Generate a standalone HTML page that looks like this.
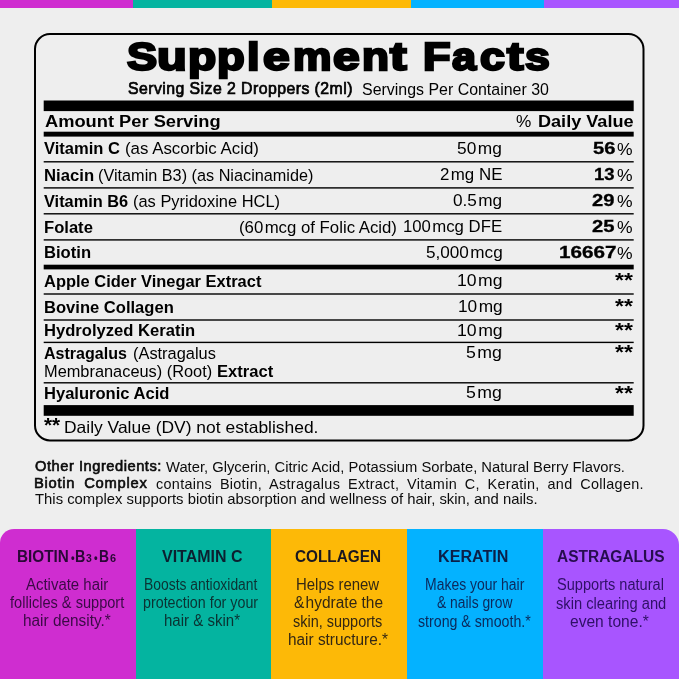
<!DOCTYPE html>
<html><head><meta charset="utf-8"><title>Supplement Facts</title>
<style>
html,body{margin:0;padding:0;}
body{width:679px;height:679px;overflow:hidden;position:relative;background:#eeeeee;font-family:"Liberation Sans",sans-serif;color:#000;}
.t{position:absolute;white-space:nowrap;transform-origin:0 0;line-height:normal;display:block;}
.band{position:absolute;top:0;height:8px;}
.h{margin:0;padding:0;font:inherit;}
.geo{position:absolute;left:0;top:0;}
.p{position:absolute;top:529.3px;height:150px;}
.txt{position:absolute;left:0;top:0;width:679px;height:679px;will-change:transform;}
</style></head><body>
<div class="band" style="left:0;width:140px;background:#cf2dd0"></div>
<div class="band" style="left:132.7px;width:145px;background:#04b4a0"></div>
<div class="band" style="left:271.7px;width:145px;background:#fdb907"></div>
<div class="band" style="left:410.7px;width:140px;background:#04b2ff"></div>
<div class="band" style="left:544px;width:135px;background:#a855ff"></div>

<svg class="geo" width="679" height="679" viewBox="0 0 679 679">
<rect x="35" y="34.1" width="608.5" height="406.3" rx="15" ry="15" fill="none" stroke="#000" stroke-width="2"/>
<rect x="43.7" y="100.5" width="590" height="10.6" fill="#000"/>
<rect x="43.7" y="131.7" width="590" height="4.9" fill="#000"/>
<rect x="43.7" y="264.7" width="590" height="4.7" fill="#000"/>
<rect x="43.7" y="405.1" width="590" height="10.7" fill="#000"/>
<rect x="43.7" y="161.1" width="590" height="1.4" fill="#000"/>
<rect x="43.7" y="187.2" width="590" height="1.4" fill="#000"/>
<rect x="43.7" y="213.1" width="590" height="1.4" fill="#000"/>
<rect x="43.7" y="239.2" width="590" height="1.4" fill="#000"/>
<rect x="43.7" y="293.3" width="590" height="1.4" fill="#000"/>
<rect x="43.7" y="319.3" width="590" height="1.4" fill="#000"/>
<rect x="43.7" y="341.7" width="590" height="1.4" fill="#000"/>
<rect x="43.7" y="382.1" width="590" height="1.4" fill="#000"/>
</svg>

<div class="p" style="left:0;width:140px;background:#cf2dd0;border-top-left-radius:14px"></div>
<div class="p" style="left:135.5px;width:140px;background:#04b4a0"></div>
<div class="p" style="left:271.3px;width:140px;background:#fdb907"></div>
<div class="p" style="left:407px;width:140px;background:#04b2ff"></div>
<div class="p" style="left:542.6px;width:136.4px;background:#a855ff;border-top-right-radius:16px"></div>

<div class="txt">
<h1 class="h"><span class="t" style="left:126.83px;top:33.84px;font-size:39.4px;font-weight:700;transform:scaleX(1.1474);-webkit-text-stroke:2.4px #000;">S</span><span class="t" style="left:157.41px;top:33.84px;font-size:39.4px;font-weight:700;transform:scaleX(1.2365);-webkit-text-stroke:2.4px #000;">u</span><span class="t" style="left:187.56px;top:33.84px;font-size:39.4px;font-weight:700;transform:scaleX(1.1709);-webkit-text-stroke:2.4px #000;">p</span><span class="t" style="left:217.28px;top:33.84px;font-size:39.4px;font-weight:700;transform:scaleX(1.1495);-webkit-text-stroke:2.4px #000;">p</span><span class="t" style="left:246.68px;top:33.84px;font-size:39.4px;font-weight:700;transform:scaleX(1.1478);-webkit-text-stroke:2.4px #000;">l</span><span class="t" style="left:262.64px;top:33.84px;font-size:39.4px;font-weight:700;transform:scaleX(1.2180);-webkit-text-stroke:2.4px #000;">e</span><span class="t" style="left:292.62px;top:33.84px;font-size:39.4px;font-weight:700;transform:scaleX(1.0986);-webkit-text-stroke:2.4px #000;">m</span><span class="t" style="left:333.14px;top:33.84px;font-size:39.4px;font-weight:700;transform:scaleX(1.2180);-webkit-text-stroke:2.4px #000;">e</span><span class="t" style="left:362.00px;top:33.84px;font-size:39.4px;font-weight:700;transform:scaleX(1.1205);-webkit-text-stroke:2.4px #000;">n</span><span class="t" style="left:389.92px;top:33.84px;font-size:39.4px;font-weight:700;transform:scaleX(1.2656);-webkit-text-stroke:2.4px #000;">t</span> <span class="t" style="left:423.38px;top:33.84px;font-size:39.4px;font-weight:700;transform:scaleX(1.1452);-webkit-text-stroke:2.4px #000;">F</span><span class="t" style="left:451.72px;top:33.84px;font-size:39.4px;font-weight:700;transform:scaleX(1.0977);-webkit-text-stroke:2.4px #000;">a</span><span class="t" style="left:479.73px;top:33.84px;font-size:39.4px;font-weight:700;transform:scaleX(1.1332);-webkit-text-stroke:2.4px #000;">c</span><span class="t" style="left:507.30px;top:33.84px;font-size:39.4px;font-weight:700;transform:scaleX(1.2526);-webkit-text-stroke:2.4px #000;">t</span><span class="t" style="left:525.03px;top:33.84px;font-size:39.4px;font-weight:700;transform:scaleX(1.1287);-webkit-text-stroke:2.4px #000;">s</span></h1>
<span class="t" style="left:128.44px;top:79.20px;font-size:16.3px;font-weight:400;letter-spacing:0.45px;transform:scaleX(0.9729);-webkit-text-stroke:0.7px #000;">Serving Size 2 Droppers (2ml)</span>
<span class="t" style="left:362.00px;top:79.55px;font-size:16.3px;font-weight:400;transform:scaleX(0.9785);">Servings Per Container 30</span>
<span class="t" style="left:44.70px;top:112.72px;font-size:16px;font-weight:700;transform:scaleX(1.1422);">Amount Per Serving</span>
<span class="t" style="left:516.40px;top:112.02px;font-size:17px;font-weight:400;transform:scaleX(1.0127);">%</span>
<span class="t" style="left:537.57px;top:112.72px;font-size:16px;font-weight:700;transform:scaleX(1.1304);">Daily Value</span>
<span class="t" style="left:44.00px;top:139.45px;font-size:16.3px;font-weight:700;transform:scaleX(1.0155);">Vitamin C</span>
<span class="t" style="left:125.37px;top:139.45px;font-size:16.3px;font-weight:400;transform:scaleX(1.0346);">(as Ascorbic Acid)</span>
<span class="t" style="left:43.68px;top:165.65px;font-size:16.3px;font-weight:700;transform:scaleX(1.0249);">Niacin</span>
<span class="t" style="left:98.20px;top:165.65px;font-size:16.3px;font-weight:400;transform:scaleX(0.9975);">(Vitamin B3) (as Niacinamide)</span>
<span class="t" style="left:44.00px;top:191.55px;font-size:16.3px;font-weight:700;transform:scaleX(1.0035);">Vitamin B6</span>
<span class="t" style="left:132.79px;top:191.55px;font-size:16.3px;font-weight:400;transform:scaleX(1.0092);">(as Pyridoxine HCL)</span>
<span class="t" style="left:43.68px;top:217.55px;font-size:16.3px;font-weight:700;transform:scaleX(1.0192);">Folate</span>
<span class="t" style="left:239.27px;top:217.55px;font-size:16.3px;font-weight:400;transform:scaleX(1.0299);">(60 mcg of Folic Acid)</span>
<span class="t" style="left:43.68px;top:243.45px;font-size:16.3px;font-weight:700;transform:scaleX(1.0208);">Biotin</span>
<span class="t" style="left:44.00px;top:271.55px;font-size:16.3px;font-weight:700;transform:scaleX(1.0110);">Apple Cider Vinegar Extract</span>
<span class="t" style="left:43.68px;top:297.65px;font-size:16.3px;font-weight:700;transform:scaleX(1.0174);">Bovine Collagen</span>
<span class="t" style="left:43.68px;top:321.45px;font-size:16.3px;font-weight:700;transform:scaleX(1.0188);">Hydrolyzed Keratin</span>
<span class="t" style="left:44.20px;top:343.55px;font-size:16.3px;font-weight:700;transform:scaleX(0.9845);">Astragalus</span>
<span class="t" style="left:132.69px;top:343.55px;font-size:16.3px;font-weight:400;transform:scaleX(1.0059);">(Astragalus</span>
<span class="t" style="left:43.68px;top:383.95px;font-size:16.3px;font-weight:700;transform:scaleX(1.0165);">Hyaluronic Acid</span>
<span class="t" style="left:43.70px;top:361.55px;font-size:16.3px;font-weight:400;transform:scaleX(1.0049);">Membranaceus) (Root)</span>
<span class="t" style="left:216.58px;top:361.55px;font-size:16.3px;font-weight:700;transform:scaleX(1.0183);">Extract</span>
<span class="t" style="left:457.40px;top:139.52px;font-size:16px;font-weight:400;transform:scaleX(1.0825);">50 mg</span>
<span class="t" style="left:439.50px;top:165.82px;font-size:16px;font-weight:400;transform:scaleX(1.0553);">2 mg NE</span>
<span class="t" style="left:453.00px;top:191.62px;font-size:16px;font-weight:400;transform:scaleX(1.0732);">0.5 mg</span>
<span class="t" style="left:402.85px;top:217.62px;font-size:16px;font-weight:400;transform:scaleX(1.0459);">100 mcg DFE</span>
<span class="t" style="left:425.50px;top:243.52px;font-size:16px;font-weight:400;transform:scaleX(1.0706);">5,000 mcg</span>
<span class="t" style="left:456.70px;top:271.82px;font-size:16px;font-weight:400;transform:scaleX(1.0998);">10 mg</span>
<span class="t" style="left:457.52px;top:297.92px;font-size:16px;font-weight:400;transform:scaleX(1.0795);">10 mg</span>
<span class="t" style="left:456.50px;top:321.72px;font-size:16px;font-weight:400;transform:scaleX(1.1049);">10 mg</span>
<span class="t" style="left:466.30px;top:343.82px;font-size:16px;font-weight:400;transform:scaleX(1.1055);">5 mg</span>
<span class="t" style="left:466.30px;top:384.22px;font-size:16px;font-weight:400;transform:scaleX(1.1055);">5 mg</span>
<span class="t" style="left:592.59px;top:140.03px;font-size:15.6px;font-weight:700;transform:scaleX(1.2898);-webkit-text-stroke:0.3px #000;">56</span>
<span class="t" style="left:617.30px;top:139.03px;font-size:17.2px;font-weight:400;transform:scaleX(1.0190);">%</span>
<span class="t" style="left:594.48px;top:166.33px;font-size:15.6px;font-weight:700;transform:scaleX(1.1842);-webkit-text-stroke:0.3px #000;">13</span>
<span class="t" style="left:617.30px;top:165.33px;font-size:17.2px;font-weight:400;transform:scaleX(1.0190);">%</span>
<span class="t" style="left:592.49px;top:192.13px;font-size:15.6px;font-weight:700;transform:scaleX(1.2954);-webkit-text-stroke:0.3px #000;">29</span>
<span class="t" style="left:617.30px;top:191.13px;font-size:17.2px;font-weight:400;transform:scaleX(1.0190);">%</span>
<span class="t" style="left:592.49px;top:218.13px;font-size:15.6px;font-weight:700;transform:scaleX(1.2954);-webkit-text-stroke:0.3px #000;">25</span>
<span class="t" style="left:617.30px;top:217.13px;font-size:17.2px;font-weight:400;transform:scaleX(1.0190);">%</span>
<span class="t" style="left:558.80px;top:244.03px;font-size:15.6px;font-weight:700;transform:scaleX(1.3255);-webkit-text-stroke:0.3px #000;">16667</span>
<span class="t" style="left:617.30px;top:243.03px;font-size:17.2px;font-weight:400;transform:scaleX(1.0190);">%</span>
<span class="t" style="left:614.85px;top:269.24px;font-size:20.4px;font-weight:700;transform:scaleX(1.1230);">**</span>
<span class="t" style="left:614.85px;top:295.44px;font-size:20.4px;font-weight:700;transform:scaleX(1.1230);">**</span>
<span class="t" style="left:614.85px;top:318.84px;font-size:20.4px;font-weight:700;transform:scaleX(1.1230);">**</span>
<span class="t" style="left:614.85px;top:340.84px;font-size:20.4px;font-weight:700;transform:scaleX(1.1230);">**</span>
<span class="t" style="left:614.85px;top:382.14px;font-size:20.4px;font-weight:700;transform:scaleX(1.1230);">**</span>
<span class="t" style="left:43.90px;top:415.23px;font-size:19.3px;font-weight:700;transform:scaleX(1.0766);">**</span>
<span class="t" style="left:63.74px;top:417.67px;font-size:16.5px;font-weight:400;transform:scaleX(1.0563);">Daily Value (DV) not established.</span>
<span class="t" style="left:35.31px;top:458.15px;font-size:14.2px;font-weight:400;letter-spacing:0.5px;transform:scaleX(1.0352);color:#0c0c0c;-webkit-text-stroke:0.6px #0c0c0c;">Other Ingredients:</span>
<span class="t" style="left:166.00px;top:458.73px;font-size:14.0px;font-weight:400;transform:scaleX(1.0546);color:#0c0c0c;">Water, Glycerin, Citric Acid, Potassium Sorbate, Natural Berry Flavors.</span>
<span class="t" style="left:34.38px;top:475.26px;font-size:14.3px;font-weight:400;letter-spacing:0.7px;word-spacing:4px;transform:scaleX(1.0322);color:#0c0c0c;-webkit-text-stroke:0.6px #0c0c0c;">Biotin Complex</span>
<span class="t" style="left:155.70px;top:475.56px;font-size:14.3px;font-weight:400;letter-spacing:0.3px;word-spacing:3.5px;transform:scaleX(1.0075);color:#0c0c0c;">contains Biotin, Astragalus Extract, Vitamin C, Keratin, and Collagen.</span>
<span class="t" style="left:35.00px;top:490.89px;font-size:14.6px;font-weight:400;transform:scaleX(1.0175);color:#0c0c0c;">This complex supports biotin absorption and wellness of hair, skin, and nails.</span>
<span class="t" style="left:17.02px;top:547.58px;font-size:15.6px;font-weight:700;transform:scaleX(0.9810);color:#2a0836;">BIOTIN</span>
<span class="t" style="left:70.50px;top:550.79px;font-size:12.5px;font-weight:700;transform:scaleX(0.8220);color:#2a0836;">•</span>
<span class="t" style="left:75.08px;top:547.58px;font-size:15.6px;font-weight:700;transform:scaleX(0.9196);color:#2a0836;">B</span>
<span class="t" style="left:86.40px;top:552.21px;font-size:10.6px;font-weight:700;transform:scaleX(0.9810);color:#2a0836;">3</span>
<span class="t" style="left:93.90px;top:550.79px;font-size:12.5px;font-weight:700;transform:scaleX(0.8220);color:#2a0836;">•</span>
<span class="t" style="left:98.81px;top:547.58px;font-size:15.6px;font-weight:700;transform:scaleX(0.8896);color:#2a0836;">B</span>
<span class="t" style="left:109.90px;top:552.21px;font-size:10.6px;font-weight:700;transform:scaleX(1.0308);color:#2a0836;">6</span>
<span class="t" style="left:162.00px;top:547.68px;font-size:15.6px;font-weight:700;transform:scaleX(1.0245);color:#0c2030;">VITAMIN C</span>
<span class="t" style="left:295.20px;top:547.68px;font-size:15.6px;font-weight:700;transform:scaleX(0.9824);color:#1a1820;">COLLAGEN</span>
<span class="t" style="left:438.27px;top:547.68px;font-size:15.6px;font-weight:700;transform:scaleX(1.0330);color:#0b1f48;">KERATIN</span>
<span class="t" style="left:556.70px;top:547.68px;font-size:15.6px;font-weight:700;transform:scaleX(0.9935);color:#260d4e;">ASTRAGALUS</span>
<span class="t" style="left:26.20px;top:575.88px;font-size:15.6px;font-weight:400;transform:scaleX(0.9589);color:#3a0a45;">Activate hair</span>
<span class="t" style="left:9.90px;top:594.08px;font-size:15.6px;font-weight:400;transform:scaleX(0.9350);color:#3a0a45;">follicles &amp; support</span>
<span class="t" style="left:22.61px;top:612.18px;font-size:15.6px;font-weight:400;transform:scaleX(0.9860);color:#3a0a45;">hair density.*</span>
<span class="t" style="left:143.61px;top:575.88px;font-size:15.6px;font-weight:400;transform:scaleX(0.8898);color:#0b3232;">Boosts antioxidant</span>
<span class="t" style="left:143.08px;top:594.08px;font-size:15.6px;font-weight:400;transform:scaleX(0.9157);color:#0b3232;">protection for your</span>
<span class="t" style="left:164.24px;top:612.38px;font-size:15.6px;font-weight:400;transform:scaleX(0.9639);color:#0b3232;">hair &amp; skin*</span>
<span class="t" style="left:295.84px;top:575.88px;font-size:15.6px;font-weight:400;transform:scaleX(0.9594);color:#332714;">Helps renew</span>
<span class="t" style="left:293.70px;top:594.08px;font-size:15.6px;font-weight:400;transform:scaleX(0.9926);color:#332714;">&amp; hydrate the</span>
<span class="t" style="left:293.30px;top:612.68px;font-size:15.6px;font-weight:400;transform:scaleX(0.9282);color:#332714;">skin, supports</span>
<span class="t" style="left:287.61px;top:630.88px;font-size:15.6px;font-weight:400;transform:scaleX(0.9857);color:#332714;">hair structure.*</span>
<span class="t" style="left:424.50px;top:575.88px;font-size:15.6px;font-weight:400;transform:scaleX(0.8957);color:#0c285a;">Makes your hair</span>
<span class="t" style="left:436.50px;top:594.08px;font-size:15.6px;font-weight:400;transform:scaleX(0.8882);color:#0c285a;">&amp; nails grow</span>
<span class="t" style="left:418.10px;top:612.68px;font-size:15.6px;font-weight:400;transform:scaleX(0.9097);color:#0c285a;">strong &amp; smooth.*</span>
<span class="t" style="left:556.70px;top:576.48px;font-size:15.6px;font-weight:400;transform:scaleX(0.9344);color:#2f1066;">Supports natural</span>
<span class="t" style="left:555.50px;top:594.98px;font-size:15.6px;font-weight:400;transform:scaleX(0.9419);color:#2f1066;">skin clearing and</span>
<span class="t" style="left:570.40px;top:613.28px;font-size:15.6px;font-weight:400;transform:scaleX(0.9983);color:#2f1066;">even tone.*</span>
</div>
</body></html>
